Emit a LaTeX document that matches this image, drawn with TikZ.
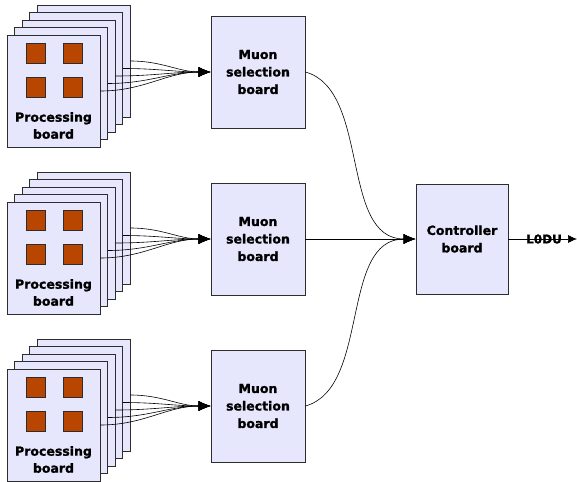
\documentclass[tikz,border=0pt]{standalone}
\usepackage{fontspec}
\newfontfamily\lab{DejaVu Sans Bold}[FakeBold=1.3]
\usetikzlibrary{arrows.meta}
\definecolor{boxfill}{RGB}{230,230,252}
\definecolor{chip}{RGB}{185,70,0}
\definecolor{edge}{RGB}{45,45,45}
\begin{document}
\begin{tikzpicture}[x=1pt,y=1pt,
  board/.style={draw=edge, fill=boxfill, line width=0.8pt, minimum width=93pt, minimum height=112pt, inner sep=0pt},
  bigbox/.style={draw=edge, fill=boxfill, line width=0.8pt, minimum width=94pt, minimum height=112pt, inner sep=0pt, align=center, font=\lab\fontsize{12.5}{17.5}\selectfont},
  chipbox/.style={draw=edge, fill=chip, line width=0.6pt, minimum width=19pt, minimum height=20pt, inner sep=0pt},
  lbl/.style={align=center, font=\lab\fontsize{12.5}{17}\selectfont, inner sep=0pt},
  wire/.style={draw=black, line width=0.6pt, -{Latex[length=12pt,width=10pt]}}]
\useasboundingbox (0,0) rectangle (577,-481);
\foreach \g/\dy in {1/0,2/167,3/334}{
  \foreach \i in {4,3,2,1,0}{
    \node[board] (c\g\i) at ({53.5+7.5*\i},{-91+7.5*\i-\dy}) {};
  }
  \node[chipbox] (q\g a) at ([shift={(-18pt,37.5pt)}]c\g0.center) {};
  \node[chipbox] (q\g b) at ([shift={(19pt,37.5pt)}]c\g0.center) {};
  \node[chipbox] (q\g c) at ([shift={(-18pt,4pt)}]c\g0.center) {};
  \node[chipbox] (q\g d) at ([shift={(19pt,4pt)}]c\g0.center) {};
  \node[lbl] (t\g) at ([yshift=-34.5pt]c\g0.center) {Processing\\board};
  \node[bigbox] (m\g) at (258,{-72-\dy}) {Muon\\selection\\board};
  \foreach \i in {0,1,2,3,4}{
    \draw[wire] (c\g\i.east) to[out=0,in=180] (m\g.west);
  }
}
\node[bigbox, minimum width=92pt, minimum height=110pt] (ctl) at (462,-239) {Controller\\board};
\draw[wire] (m1.east) .. controls +(65,-18) and +(-76,0) .. (ctl.west);
\draw[wire] (m2.east) -- (ctl.west);
\draw[wire] (m3.east) .. controls +(65,18) and +(-76,0) .. (ctl.west);
\coordinate (out) at (577,-239);
\draw[wire, -{Latex[length=9pt,width=8pt]}] (ctl.east) -- (out);
\node[lbl, font=\lab\fontsize{12}{15}\selectfont] (l0) at (544,-239) {L0DU};
\end{tikzpicture}
\end{document}
